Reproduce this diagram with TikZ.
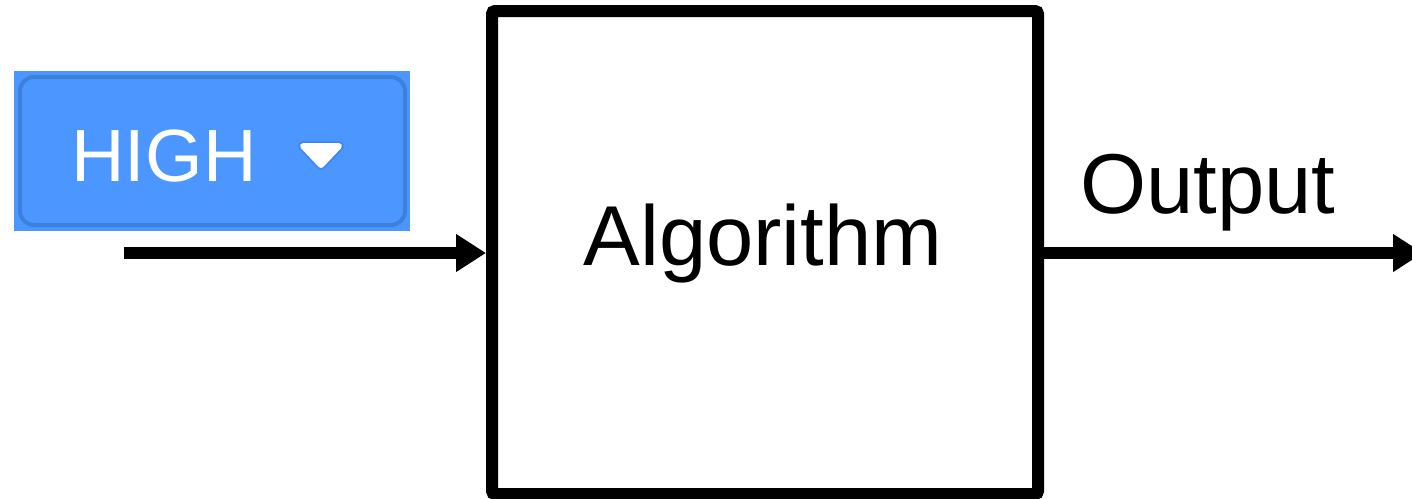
\documentclass[tikz,border=0pt]{standalone}
\usepackage{fontspec}
\setmainfont{Liberation Sans}
\usetikzlibrary{arrows.meta}
\definecolor{scratchblue}{HTML}{4C97FF}
\definecolor{scratchedge}{HTML}{3D7FDD}
\definecolor{caretedge}{HTML}{4388F2}
\begin{document}
\begin{tikzpicture}[x=0.5pt,y=-0.5pt,
  flow/.style={line width=6pt,-{Triangle[length=15pt,width=18pt]}},
  blockbox/.style={draw,line width=6pt,rounded corners=1.5pt,
    minimum width=273pt,minimum height=241.5pt,inner sep=0pt},
  bigtext/.style={font=\fontsize{42.5}{50}\selectfont,inner sep=0pt,anchor=base},
  dropbox/.style={fill=scratchblue,minimum width=198pt,minimum height=80pt,inner sep=0pt},
  droptext/.style={font=\fontsize{37}{44}\selectfont,text=white,inner sep=0pt,anchor=base},
]
\clip (0,0) rectangle (1412,498);

% the processing block
\node[blockbox] (algo) at (765,252.5) {};
\node[bigtext] (algotext) at (763,265) {Algorithm};

% dropdown selector feeding the block
\node[dropbox] (dropdown) at (212,151) {};
\draw[scratchedge,line width=2pt,rounded corners=7pt] (20,77) rectangle (405,225);
\node[droptext] (high) at (164,181) {HIGH};
\draw[caretedge,line width=5pt,line join=round] (303,146) -- (339,146) -- (321,165) -- cycle;
\draw[white,fill=white,line width=3pt,line join=round] (303,146) -- (339,146) -- (321,165) -- cycle;

% input and output connectors
\coordinate (src) at (124,253);
\coordinate (sink) at (1423,253);
\draw[flow] (src) -- (algo.west |- src);
\draw[flow] (algo.east |- sink) -- (sink);
\node[bigtext] (outlabel) at (1208,213) {Output};
\end{tikzpicture}
\end{document}
